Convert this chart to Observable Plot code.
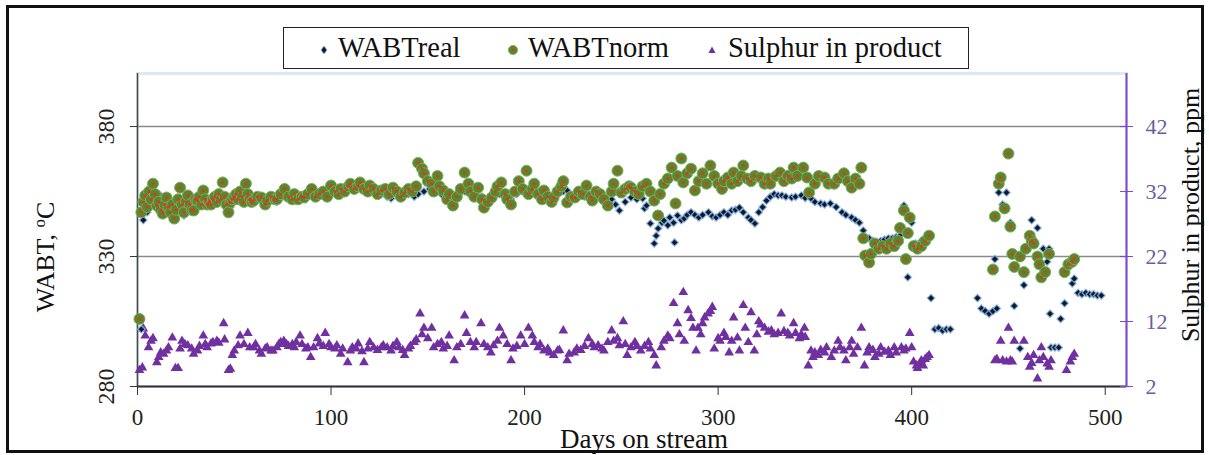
<!DOCTYPE html>
<html><head><meta charset="utf-8">
<script src="https://cdn.jsdelivr.net/npm/d3@7"></script>
<script src="https://cdn.jsdelivr.net/npm/@observablehq/plot@0.6"></script>
<style>
html,body{margin:0;padding:0;background:#fff;}
#wrap{position:relative;width:1209px;height:455px;overflow:hidden;font-family:"Liberation Serif","Times New Roman",serif;}
#chart{position:absolute;left:0;top:0;}
#frame{position:absolute;left:6px;top:5px;width:1198px;height:448px;box-sizing:border-box;border:3px solid #111;pointer-events:none;}
#legend{position:absolute;left:283px;top:27px;width:686px;height:42px;box-sizing:border-box;border:1.5px solid #222;background:#fff;}
.li{position:absolute;top:3px;font-size:28.5px;line-height:34px;color:#111;white-space:nowrap;}
.lm{position:absolute;top:14px;}
</style></head><body>
<div id="wrap"><div id="chart"></div><div id="legend"></div><div id="frame"></div></div>
<script>
// ---- data (day, value) ----
const seriesNames = ["WABTreal", "WABTnorm", "Sulphur in product"];
const dayTicks = [0, 100, 200, 300, 400, 500];
const wabtTicks = [280, 330, 380];
const sulphurTicks = [2, 12, 22, 32, 42];

const wabtReal = [
[2,302],[3,344],[5,347],[7,350],[9,353],[11,354],[13,348],[15,350],[17,346],[19,345],[21,347.7],[23,348],[24,345.8],[26,350],[28,349],[30,350],[33,352],[36,351],[39,350],[42,352],[45,352],[48,349],[51,352],[54,353],[57,353],[60,351],[63,352],[66,351],[69,352],[72,351],[75,353],[78,352],[81,352],[84,353],[87,352],[90,354],[93,353],[96,354],[99,355],[102,354],[105,355],[108,356],[111,356],[114,357],[117,356],[120,355],[123,355],[126,354],[129,353],[131,352.3],[134,354],[137,353],[140,354],[143,353],[145,354],[148,355],[151,356],[154,355],[157,354],[160,353],[163,352],[166,354],[169,355],[172,355],[175,354],[178,353],[181,352],[184,353],[187,354],[190,353],[193,352],[196,354],[199,355],[202,354],[205,355],[208,353],[211,354],[214,353],[217,354],[220,355],[222,355.4],[225,353],[228,354],[231,353],[233,354],[236,353],[239,352.3],[242,351],[245,352],[247,350],[249,347.7],[252,351],[255,352.7],[258,352],[261,352.3],[262,348.5],[263,349.6],[265,342.7],[267,335],[268,338],[269,340.8],[271,343],[272,343.8],[274,342],[275,345],[277,343],[277.5,335.4],[279,345.8],[281,344],[282.5,344.6],[284,346],[286,347],[288,346],[290,345],[292,346],[295,347],[297,345.5],[299,345],[301,346],[303,347],[305,346],[307,347.7],[309,348],[311,348.8],[313,347],[315.6,345],[317,344],[319,342.7],[321,347],[323,349],[325,351.5],[327,353],[329,354],[331,353.5],[333,353.5],[335,353],[338,352.7],[340,353],[343,353.5],[345,352.5],[348,352.3],[350,351],[353,350.4],[355,350],[358,350.4],[361,349],[364,347],[366,346],[369,345],[371,344],[373,343],[375,340],[378,337],[380,336],[382,335],[384,336],[386,336.5],[388,337],[390,337],[392,337.5],[394,338],[396,349.6],[398,322],[400,343],[402,335],[405,336],[410,314],[412,302],[414,302.5],[416,301.5],[418,302],[420,302],
[434,314],[436,310],[438,309],[440,308],[442,309],[443,329],[444,310],[445,354.6],[447,350],[449,354.6],[451,343],[453,311],[456,294.6],[458,319],[462,344],[465,341],[468,333],[470,328],[471,333],[471.5,308],[472,295],[474,295],[476,295],[477,306],[479,312],[483,319.6],[484,321.5],[486,316],[488,315.5],[490,316],[492,315.5],[494,315.5],[496,315],[498,315]
];

const wabtNorm = [
[1,306],[2,347],[3,351],[4,353.5],[5,349],[6,355],[7,352],[8,358],[9,354],[10,349.6],[11,351],[12,348],[13,346.5],[14,350],[15,352.7],[16,349],[17,347],[18,350],[19,344.6],[20,348],[21,352],[22,356.5],[23,350],[24,347],[25,351],[26,353.5],[27,350],[28,348],[29,347.7],[30,352],[31,351.5],[32,353],[33,350],[34,355.4],[35,352],[36,350],[37,351],[38,350],[39,352],[40,353],[41,351],[42,354],[43,352],[44,358.5],[45,353],[46,350],[47,347],[48,350.8],[49,352],[50,353],[51,354],[52,352],[53,355],[54,353],[55,351],[56,358],[57,354],[58,352],[59,351],[60,351.5],
[62,353],[64,352.7],[66,350],[67,351.5],[69,353],[71,352],[72,352],[74,354],[76,356],[78,353],[80,352],[81,354],[83,352],[85,353],[86,352.7],[88,354],[90,356],[92,353],[94,354],[96,355],[98,353],[100,357.3],[102,355],[104,354],[105,356],[107,355],[109,357],[110,358],[112,356],[114,357],[115,358.5],[117,356],[119,355],[120,357.3],[122,356],[124,354],[126,355.4],[128,356],[130,354],[132,356.5],[134,355],[136,353],[138,354.6],[140,356],[142,355],[144,357],[145,366],[147,363.8],[148,362],[150,359],[152,358],[153,355],[155,361],[156,357],[158,355.4],[160,352],[161,354],[163,349.6],[165,353],[167,356],[169,362.3],[171,358],[172,355],[174,353],[176,356.5],[178,352],[179,348.8],[181,351],[183,352.7],[185,355],[186,357],[188,358.5],[190,354],[191,352],[193,350],[195,355],[197,359],[199,356],[201,363],[202,354],[204,356],[205,358],[207,354],[209,352],[210,355.4],[212,353],[214,351],[215,352.7],[217,355],[219,357],[220,359],[222,350.8],[224,353],[226,352.7],[228,355],[230,354],[232,357.3],[234,353],[235,351.5],[237,355],[239,354],[241,352],[243,349.6],[245,355],[246,358],[248,363],[250,354.6],[252,356],[254,357],[255,356.5],[257,355],[259,354],[261,357],[263,358],[265,355],[267,351.5],[269,345.8],[270,354],[272,358],[274,360],[276,364.2],[278,350.4],[279,361],[281,367.7],[282,358.5],[284,362],[286,363.8],[288,355.4],[290,359],[292,362],[294,358],[296,365],[298,361],[300,358],[302,356],[303,359],[305,360.4],[307,358],[308,362.3],[310,359],[312,361],[313,365],[315,360],[317,359],[319,361],[322,360.4],[324,358],[326,360],[327,358],[330,361],[332,362.3],[334,359],[336,361],[338,360],[339,364.2],[341,361],[344,364.2],[346,360.4],[347,354.6],[350,358],[352,361],[355,360.4],[357,358],[360,358],[362,360],[365,362],[367,359],[369,356.5],[371,360],[373,358],[374,364.2],[375,337],[376,330.4],[378,327.7],[379,331],[381,335],[383,333],[385,334],[387,333],[389,335],[391,334],[393,336],[394,341],[396,347.7],[397,329],[398,339],[399,345],[401,334],[403,333],[405,334],[407,336],[409,338],
[442,325],[443,345.4],[445,358],[446,360.4],[448,348.5],[450,369.6],[451,341.5],[452,331],[453,326],[456,330],[458,324],[459,333],[461,338],[462,336],[463,335],[465,330],[466,327],[467,322],[469,324],[471,331],[479,324],[481,327],[483,328],[484,329]
];

const sulphur = [
[1,4.5],[2.5,4.9],[3,10.9],[4,9.8],[5.7,8],[7,9],[8,9.4],[10,5.7],[11,6.5],[12,7.2],[13.5,7],[15,7.5],[16,8],[18,9.5],[19.6,4.8],[21,4.8],[22,7.8],[23,9],[24.5,8.5],[26,8.3],[28,7.8],[29,7],[31,7.5],[32,8.2],[34,9.8],[35,8.5],[36,8],[38,8.6],[39,8.8],[41,9],[42,8.7],[44.5,11.7],[45,9.2],[47,4.5],[48,4.7],[49,6.8],[50,7.5],[52,8.3],[53,9.8],[55,8.5],[57,10.2],[58,8],[60,8],[61,8.5],[63,7.5],[64,7],[66,7.8],[67,8],[69,7.5],[70,7.5],[72,8],[73,8.5],[74,8.8],[75.6,9],[77,8.5],[78,8.2],[80,8.5],[81,8],[82,8.8],[84,9.8],[85,8.5],[87,7.8],[88,8],[89.5,6.5],[91,8],[93,9.4],[94,8.6],[96,8.2],[97,10.2],[99,8.5],[100,8],[102,7.8],[103,8.3],[105,7],[106,7.8],[108.6,5.7],[110,7.5],[111,8],[113,7.8],[114,8.6],[116,7.4],[117,5.7],[119,7.8],[120,8.8],[122,8],[124,7.6],[126,8],[127,8.3],[129,8],[131,7.5],[132,8.2],[134,8.8],[135,8],[137,7.6],[138,6.8],[140,7.8],[141,8.2],[143,8.8],[144,9.2],[146,13.2],[147,10],[148,11],[150,9.4],[152,11],[153,8],[155,8.5],[157,8.8],[158,7.8],[160,8.2],[161,9.8],[163.6,6],[165,8],[167,8.5],[169,12.9],[170,10.2],[172,8.8],[174,8],[175,8.8],[177.5,11.7],[179,8.5],[181,8],[182.6,7.2],[184,8.3],[186,9],[187,11],[189,9.8],[191,8.5],[193,6],[194,7.8],[196,8.2],[198,9.8],[200,8.5],[202,11],[204,9.8],[205,8.8],[207,8],[208,8.5],[210,7.5],[212,7.8],[213,7.2],[215,6.8],[217,7.5],[218,7.6],[220,10.6],[222,6],[223,7],[225.6,7.2],[227,7.8],[229,7.6],[231,8.2],[233,9.4],[235,8.5],[236,8],[238,8.3],[240,7.8],[241,7.5],[243,8.8],[245,10.6],[246,9],[248,9.4],[249,8.3],[251,12],[252,8.5],[253,6.8],[255,8],[257,8.8],[258,8.2],[260,7.5],[262,8.2],[264,8.8],[265,7.8],[267,6.8],[268,5.2],[270.6,8],[272,9],[274,9.8],[275,9.4],[277,14.8],[279,11.7],[280,10],[282,16.5],[282.5,9],[284.5,13.7],[286,12.5],[287,11],[288.6,7.5],[289.6,11],[291,10],[292,11.7],[293,12.6],[294.8,13.2],[296,13.6],[297,14.2],[298,7.8],[300,9.4],[301,9],[303,10.2],[304,9.6],[305.7,7.2],[307,9],[308,12.6],[310,9.5],[311,7.5],[313,14.5],[314,11],[315.6,8.8],[317,13.4],[318.7,7.5],[320,10],[321,12],[322,11.5],[324,11],[326,10.4],[327.5,10.6],[329,10],[331,10.2],[332.6,13.2],[334,10.5],[336,10.2],[337,9.8],[339,11.7],[340,10.2],[342,9.4],[343,10],[344.6,11],[345,9.6],[346.6,5.2],[348,7.5],[349,6.5],[350,7.2],[351.8,6.8],[353,7.6],[355,7.2],[356,8],[358.5,6.5],[360,7.5],[362,9],[363,8],[365,7.5],[366,6],[368,8],[369,9],[370,7],[372,8],[374,11],[375.6,5.2],[377,7.2],[378,8],[380,7.6],[381,6.5],[383,7],[384,8],[386,7.3],[388,7.5],[389,6.8],[391,8],[392,7.2],[394.7,8],[396,7.5],[397,7.8],[399,10.2],[400,8],[401,5.8],[402.5,5.2],[403,4.8],[404,5.5],[405,6],[406,5.2],[407,6.2],[408,6.5],[409,6.8],
[443,6],[444,6.2],[446,9],[447,6],[449,5.8],[450,11],[451,6],[452,5.8],[453,9],[458,9],[460,6.5],[461,5],[462,5.6],[463,6.8],[465,3.2],[466,6],[467,8],[468,6.5],[470,5.5],[471,5],[472,6],[480,4.5],[482,5.8],[483,6.5],[484,7]
];

const xTitle = "Days on stream";
const yTitle = "WABT, oC";
const y2Title = "Sulphur in product, ppm";

// ---- colours ----
const C = {real:"#0b1a33", realHalo:"#8fb6e3", norm:"#5a862c", normHalo:"#86a862", normDot:"#e3341f", sul:"#7030a0", right:"#8248c8", rightText:"#6c5da0"};

// secondary axis: sulphur 2..50 ppm maps onto WABT 280..400
const s2w = s => 280 + (s - 2) * 2.5;
const w2s = w => 2 + (w - 280) / 2.5;

const font = "Liberation Serif, Times New Roman, serif";
const chart = Plot.plot({
  width: 1209, height: 455,
  marginLeft: 137, marginRight: 83, marginTop: 73, marginBottom: 69,
  style: {fontFamily: font, background: "transparent", color: "#111", overflow: "visible"},
  x: {domain: [0, 511]},
  y: {domain: [280, 400.4]},
  marks: [
    Plot.frame({stroke: "#dce8f5", strokeWidth: 3}),
    Plot.gridY(wabtTicks.filter(v => v > 280), {stroke: "#8a8a8a", strokeOpacity: 1, strokeWidth: 1.5}),
    Plot.ruleX([0], {stroke: "#4a4a4a", strokeWidth: 1.5}),
    Plot.ruleY([280], {stroke: "#333", strokeWidth: 2}),
    Plot.ruleX([511], {stroke: C.right, strokeWidth: 2}),
    Plot.axisY(wabtTicks, {anchor: "left", tickSize: 7, tickPadding: 17, tickRotate: -90, fontSize: 24, label: null, stroke: "#333", fill: "#222"}),
    Plot.axisY(sulphurTicks.map(s2w), {anchor: "right", tickSize: 13, dx: -7, tickFormat: () => "", stroke: C.right, label: null}),
    Plot.axisY(sulphurTicks.map(s2w), {anchor: "right", tickSize: 0, tickPadding: 19, tickFormat: v => String(Math.round(w2s(v))), fill: C.rightText, fontSize: 22, label: null}),
    Plot.axisX(dayTicks, {anchor: "bottom", tickSize: 9, tickPadding: 13, fontSize: 23, label: null, stroke: "#333", fill: "#222"}),
    Plot.dot(sulphur, {x: d => d[0], y: d => s2w(d[1]), symbol: "triangle", r: 3.6, fill: C.sul}),
    Plot.dot(wabtReal, {x: d => d[0], y: d => d[1], symbol: "diamond2", r: 3.4, fill: C.real, stroke: C.realHalo, strokeWidth: 1.3, strokeOpacity: 0.8}),
    Plot.dot(wabtNorm, {x: d => d[0], y: d => d[1], r: 5.5, fill: C.norm, stroke: C.normHalo, strokeWidth: 1}),
    Plot.dot(wabtNorm, {x: d => d[0], y: d => d[1], r: 1.5, fill: C.normDot}),
    Plot.text([xTitle], {frameAnchor: "bottom", textAnchor: "middle", lineAnchor: "bottom", dx: 12, dy: 61, fontSize: 27, fill: "#111"}),
    Plot.text([yTitle], {frameAnchor: "left", textAnchor: "middle", lineAnchor: "middle", dx: -92, dy: 27, rotate: -90, fontSize: 26, fill: "#111"}),
    Plot.text([y2Title], {frameAnchor: "right", textAnchor: "middle", lineAnchor: "middle", dx: 64, dy: -15, rotate: -90, fontSize: 26, fill: "#111"})
  ]
});

// superscript "o" in the WABT title
d3.select(chart).selectAll("text").filter(function () { return this.textContent === yTitle; }).each(function () {
  const t = d3.select(this);
  t.text(null);
  t.append("tspan").text("WABT, ");
  t.append("tspan").attr("dy", -9).attr("font-size", 17).text("o");
  t.append("tspan").attr("dy", 9).text("C");
});
document.getElementById("chart").appendChild(chart);

// legend
const legend = document.getElementById("legend");
const legendPos = [{m: 40, t: 54}, {m: 228, t: 244}, {m: 428, t: 444}];
const markers = [
  `<svg width="10" height="12"><path d="M5,2 L8,6 L5,10 L2,6 Z" fill="${C.real}" stroke="${C.realHalo}" stroke-width="0.8"/></svg>`,
  `<svg width="12" height="12"><circle cx="6" cy="6" r="4.6" fill="${C.norm}" stroke="${C.normHalo}" stroke-width="0.8"/><circle cx="6" cy="6" r="1.3" fill="${C.normDot}"/></svg>`,
  `<svg width="10" height="12"><path d="M5,2.5 L8.5,9 L1.5,9 Z" fill="${C.sul}"/></svg>`
];
seriesNames.forEach((name, i) => {
  const m = document.createElement("div");
  m.className = "lm"; m.style.left = (legendPos[i].m - 5) + "px"; m.innerHTML = markers[i];
  legend.appendChild(m);
  const t = document.createElement("div");
  t.className = "li"; t.style.left = legendPos[i].t + "px"; t.textContent = name;
  legend.appendChild(t);
});
</script>
</body></html>
